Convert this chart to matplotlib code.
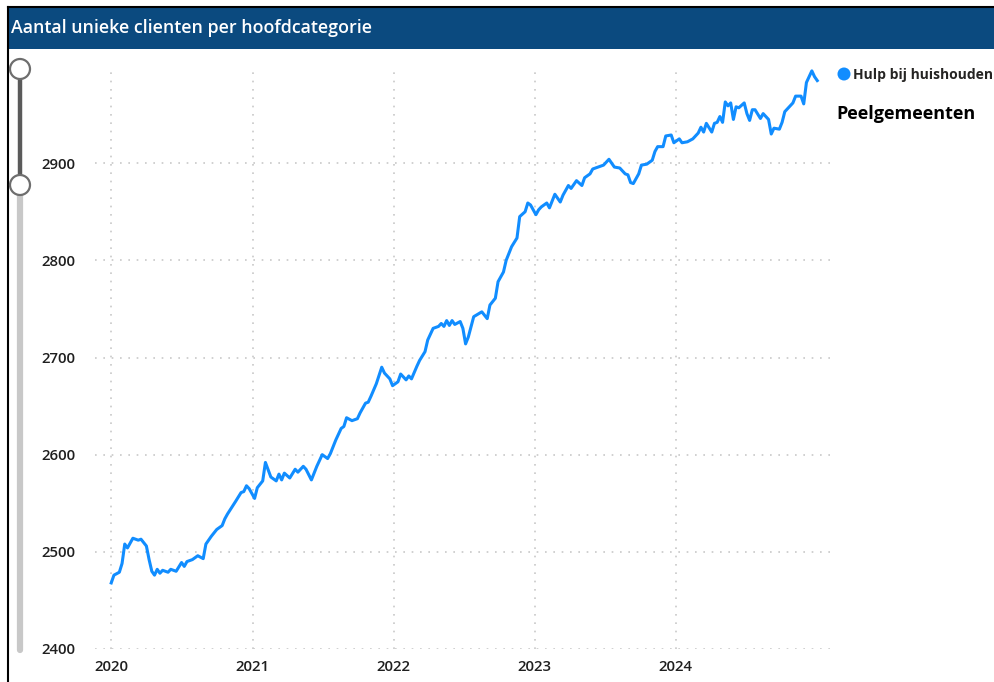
import numpy as np
import pandas as pd
import matplotlib
matplotlib.use("Agg")
import matplotlib.pyplot as plt
import matplotlib.dates as mdates
from matplotlib.patches import Rectangle, Circle

plt.rcParams['font.family'] = ['Open Sans', 'DejaVu Sans']

# weeks since 2020-01-01 and number of unique clients
weeks = [0, 1, 3, 4, 5, 6, 8, 10, 11, 13, 14, 15, 16, 17, 18, 19, 21, 22, 24, 26,
         27, 28, 30, 32, 34, 35, 37, 39, 41, 42, 43, 46, 48, 49, 50, 51, 53, 54, 56, 57,
         59, 61, 62, 63, 64, 66, 68, 69, 71, 72, 74, 76, 78, 80, 81, 83, 85, 86, 87, 89,
         91, 92, 94, 95, 96, 98, 100, 101, 103, 104, 106, 107, 109, 110, 111, 113, 114, 116, 117, 119,
         121, 122, 123, 124, 125, 126, 127, 129, 130, 131, 132, 134, 137, 139, 140, 142, 143, 145, 146, 148,
         150, 151, 153, 154, 155, 157, 158, 159, 161, 162, 164, 166, 167, 169, 170, 172, 174, 175, 177, 178,
         180, 182, 184, 186, 188, 190, 191, 192, 193, 195, 196, 198, 200, 201, 202, 204, 205, 207, 208, 210,
         211, 213, 215, 217, 218, 219, 220, 222, 223, 224, 225, 226, 227, 228, 229, 230, 231, 232, 234, 235,
         236, 237, 238, 240, 241, 243, 244, 245, 247, 248, 249, 251, 252, 253, 255, 256, 257, 259, 260, 261]
clients = [2468, 2476, 2479, 2488, 2508, 2504, 2514, 2512, 2513, 2506, 2492, 2480, 2476, 2482, 2478, 2481, 2479, 2482, 2480, 2489,
           2485, 2490, 2492, 2496, 2493, 2508, 2516, 2523, 2527, 2534, 2539, 2552, 2561, 2562, 2568, 2565, 2555, 2566, 2573, 2592,
           2577, 2573, 2580, 2574, 2581, 2576, 2585, 2582, 2588, 2585, 2574, 2588, 2600, 2596, 2601, 2615, 2627, 2629, 2638, 2635,
           2637, 2643, 2653, 2654, 2660, 2673, 2690, 2684, 2678, 2671, 2675, 2683, 2677, 2681, 2678, 2691, 2697, 2706, 2718, 2730,
           2732, 2735, 2732, 2738, 2733, 2738, 2734, 2737, 2730, 2714, 2721, 2742, 2747, 2740, 2754, 2761, 2778, 2788, 2800, 2814,
           2823, 2845, 2850, 2859, 2857, 2847, 2852, 2855, 2859, 2854, 2868, 2860, 2867, 2877, 2874, 2882, 2877, 2885, 2889, 2894,
           2896, 2898, 2904, 2896, 2895, 2889, 2888, 2880, 2879, 2889, 2898, 2899, 2903, 2912, 2917, 2917, 2928, 2929, 2921, 2925,
           2921, 2922, 2925, 2931, 2937, 2932, 2941, 2932, 2941, 2942, 2948, 2942, 2963, 2959, 2962, 2945, 2958, 2957, 2962, 2951,
           2944, 2955, 2955, 2946, 2951, 2945, 2930, 2936, 2935, 2942, 2953, 2959, 2962, 2969, 2969, 2961, 2983, 2995, 2989, 2985]

y_ticks = [2400, 2500, 2600, 2700, 2800, 2900]
x_years = [2020, 2021, 2022, 2023, 2024]
series_name = "Hulp bij huishouden"
region = "Peelgemeenten"
title = "Aantal unieke clienten per hoofdcategorie"

dates = pd.Timestamp("2020-01-01") + pd.to_timedelta(np.array(weeks) * 7, unit="D")

W, H = 995, 682
fig = plt.figure(figsize=(W / 100, H / 100), dpi=100)

# decoration layer in pixel coordinates
deco = fig.add_axes([0, 0, 1, 1])
deco.set_xlim(0, W)
deco.set_ylim(H, 0)
deco.axis('off')
deco.add_patch(Rectangle((8, 7), W - 8, 42, facecolor='#0B4A7F', edgecolor='none'))
deco.plot([8, 8], [7, H], color='black', lw=1.5)
deco.plot([8, W], [7, 7], color='black', lw=1.5)
deco.text(11, 28, title, color='white', fontsize=12.8, fontweight='semibold', va='center', ha='left')

# range slider on the left
deco.plot([20, 20], [185, 650], color='#c8c8c8', lw=4.5, solid_capstyle='round', zorder=2)
deco.plot([20, 20], [69, 185], color='#5a5a5a', lw=3.2, zorder=3)
for cy in (69, 185):
    deco.add_patch(Circle((20, cy), 10, facecolor='white', edgecolor='#6e6e6e', lw=1.6, zorder=4))

# legend and subtitle
deco.add_patch(Circle((844, 74), 6.5, facecolor='#118DFF', edgecolor='none'))
deco.text(853, 74.5, series_name, fontsize=10, fontweight='bold', color='#252423', va='center', ha='left')
deco.text(836, 114, region, fontsize=13, fontweight='bold', color='black', va='center', ha='left')

ax = fig.add_axes([95 / W, 1 - 649 / H, (830 - 95) / W, (649 - 66) / H])
ax.patch.set_alpha(0)
ax.plot(dates, clients, color='#118DFF', lw=2.2, solid_joinstyle='round')

ax.set_ylim(2400, 3000)
ax.set_yticks(y_ticks)
ax.set_xlim(pd.Timestamp("2019-11-20"), pd.Timestamp("2025-02-03"))
ax.set_xticks([pd.Timestamp(f"{y}-01-01") for y in x_years])
ax.xaxis.set_major_formatter(mdates.DateFormatter("%Y"))

ax.grid(True, color='#c8c8c8', linestyle=(0, (1, 4)), lw=1.2)
for s in ax.spines.values():
    s.set_visible(False)
ax.tick_params(length=0, labelsize=10.8, colors='#1f1f1f')
ax.tick_params(axis='y', pad=14)
ax.tick_params(axis='x', pad=8)
for lab in ax.get_xticklabels() + ax.get_yticklabels():
    lab.set_fontweight('semibold')

fig.savefig("out.png", dpi=100)
